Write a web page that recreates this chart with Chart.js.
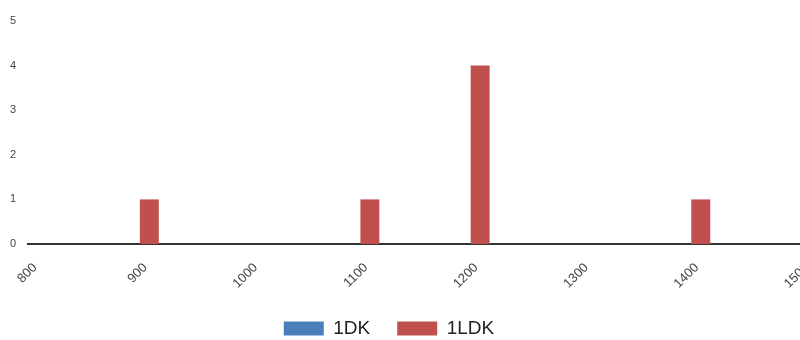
<!DOCTYPE html>
<html>
<head>
<meta charset="utf-8">
<script src="https://cdn.jsdelivr.net/npm/chart.js@4"></script>
<style>
  html, body { margin: 0; padding: 0; background: #fff; }
  #wrap { width: 800px; height: 340px; }
</style>
</head>
<body>
<div id="wrap"><canvas id="chart"></canvas></div>
<script>
const sizes = ["800", "900", "1000", "1100", "1200", "1300", "1400", "1500"];
const oneDK = [0, 0, 0, 0, 0, 0, 0, 0];
const oneLDK = [0, 1, 0, 1, 4, 0, 1, 0];

// nudge the legend a bit to the left, like the original
const legendShift = {
  id: "legendShift",
  afterLayout(chart) {
    chart.legend.left -= 10;
    chart.legend.right -= 10;
  },
};

const ctx = document.getElementById("chart").getContext("2d");

new Chart(ctx, {
  type: "bar",
  data: {
    labels: sizes,
    datasets: [
      { label: "1DK", data: oneDK, backgroundColor: "#4a7ebb" },
      { label: "1LDK", data: oneLDK, backgroundColor: "#c0504d" },
    ],
  },
  plugins: [legendShift],
  options: {
    responsive: true,
    maintainAspectRatio: false,
    animation: false,
    categoryPercentage: 0.4,
    barPercentage: 0.86,
    layout: { padding: { top: 21, right: 0, left: -2, bottom: -8 } },
    plugins: {
      legend: {
        position: "bottom",
        labels: {
          boxWidth: 40,
          boxHeight: 14,
          padding: 27,
          color: "#222",
          font: { family: "Liberation Sans", size: 19 },
        },
      },
      tooltip: { enabled: false },
    },
    scales: {
      x: {
        offset: false,
        grid: { display: false },
        border: { display: true, color: "#333", width: 2 },
        ticks: {
          minRotation: 45,
          maxRotation: 45,
          padding: 8,
          labelOffset: 7,
          color: "#444",
          font: { family: "Liberation Sans", size: 13 },
        },
        afterFit: (scale) => {
          scale.height = 48;
          scale.paddingRight = 0;
        },
      },
      y: {
        min: 0,
        max: 5,
        grid: { display: false },
        border: { display: false },
        ticks: {
          stepSize: 1,
          padding: 4,
          color: "#444",
          font: { family: "Liberation Sans", size: 11 },
        },
        afterFit: (scale) => { scale.width = 30; },
      },
    },
  },
});
</script>
</body>
</html>
